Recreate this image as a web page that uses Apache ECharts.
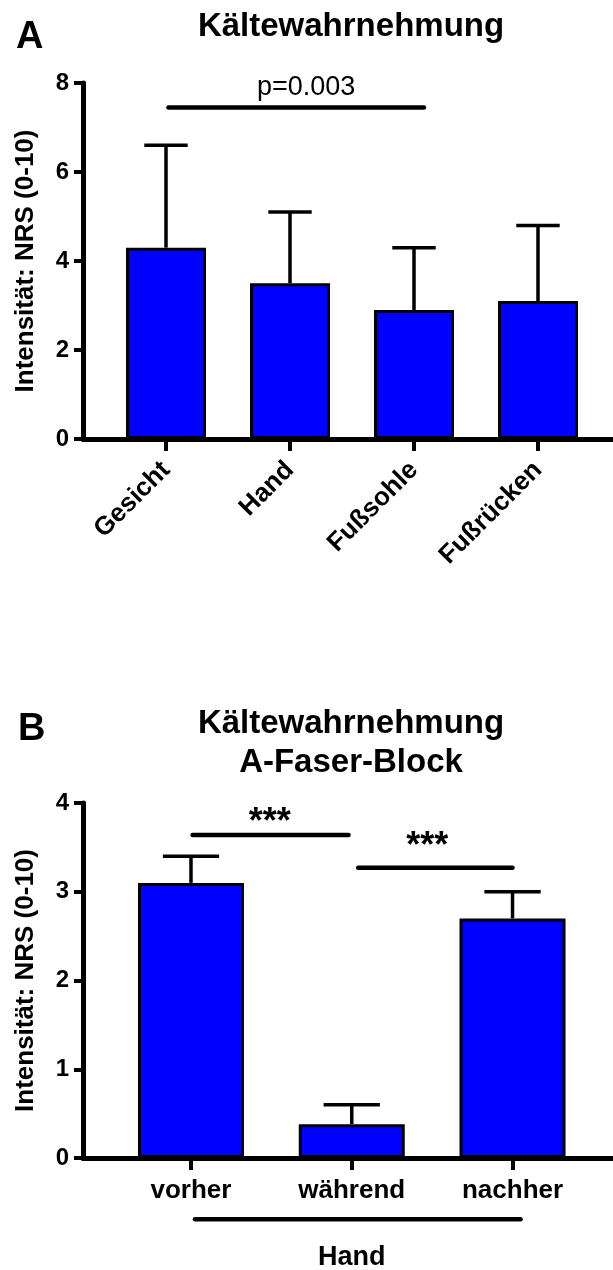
<!DOCTYPE html>
<html><head><meta charset="utf-8">
<script src="https://cdn.jsdelivr.net/npm/echarts@6/dist/echarts.min.js"></script>
<style>html,body{margin:0;padding:0;background:#fff}#c{width:613px;height:1270px}</style>
</head><body><div id="c"></div>
<script>
// ---- Panel A data ----
const aCategories = ['Gesicht', 'Hand', 'Fußsohle', 'Fußrücken'];
const aMeans = [4.3, 3.5, 2.9, 3.1];
const aSD = [2.3, 1.6, 1.4, 1.7];
const aYTicks = [0, 2, 4, 6, 8];
// significance: [fromPos, toPos, yLevel, labelPos, labelY]
const aSig = [[0.02, 2.08, 7.45, 1.13, 7.9]];
const aSigLabels = ['p=0.003'];

// ---- Panel B data ----
const bCategories = ['vorher', 'während', 'nachher'];
const bMeans = [3.1, 0.38, 2.7];
const bSD = [0.3, 0.22, 0.3];
const bYTicks = [0, 1, 2, 3, 4];
const bSig = [[0.01, 0.98, 3.64, 0.49, 3.85], [1.04, 2.0, 3.27, 1.47, 3.58]];
const bSigLabels = ['***', '***'];
const bGroup = [[0.025, 2.05, -0.69, 1.0, -1.12]];
const bGroupLabels = ['Hand'];

const FONT = '"Liberation Sans", Arial, Helvetica, sans-serif';
const txt = (size, weight) => ({ fontFamily: FONT, fontSize: size, fontWeight: weight, color: '#000' });

function errRender(params, api) {
  const i = api.value(0), m = api.value(1), sd = api.value(2);
  const p0 = api.coord([i, m]), p1 = api.coord([i, m + sd]);
  const half = api.size([1, 0])[0] * 0.175;
  return { type: 'group', children: [
    { type: 'line', shape: { x1: p0[0], y1: p0[1], x2: p1[0], y2: p1[1] }, style: { stroke: '#000', lineWidth: 3.5 } },
    { type: 'line', shape: { x1: p1[0] - half, y1: p1[1], x2: p1[0] + half, y2: p1[1] }, style: { stroke: '#000', lineWidth: 3.5 } }
  ]};
}
function makeSig(labels, fontSize, weight, dy) {
  return function (params, api) {
    const x0 = api.value(0), x1 = api.value(1), y = api.value(2), tx = api.value(3), ty = api.value(4);
    const band = api.size([1, 0])[0];
    const b = api.coord([0, y]);
    const t = api.coord([0, ty]);
    return { type: 'group', children: [
      { type: 'line', shape: { x1: b[0] + x0 * band, y1: b[1], x2: b[0] + x1 * band, y2: b[1] },
        style: { stroke: '#000', lineWidth: 4.5, lineCap: 'round' } },
      { type: 'text', style: { x: t[0] + tx * band, y: t[1] + dy, text: labels[params.dataIndex],
        fontFamily: FONT, fontSize: fontSize, fontWeight: weight, fill: '#000', align: 'center', verticalAlign: 'middle' } }
    ]};
  };
}

const barStyle = { color: '#0000ff', borderColor: '#000', borderWidth: 3 };
const yLine = (ticks, name) => ({
  type: 'value', min: ticks[0], max: ticks[ticks.length - 1], interval: ticks[1] - ticks[0],
  axisLine: { show: true, lineStyle: { color: '#000', width: 5 } },
  axisTick: { show: true, inside: false, length: 9, lineStyle: { color: '#000', width: 4 } },
  axisLabel: Object.assign({ margin: 14 }, txt(24, 'bold')),
  splitLine: { show: false },
  name: name, nameLocation: 'middle', nameGap: 44, nameTextStyle: txt(26, 'bold')
});
const xLine = (gi) => ({ type: 'value', gridIndex: gi, min: 0, max: 1,
  axisLine: { show: true, onZero: false, lineStyle: { color: '#000', width: 5 } },
  axisTick: { show: false }, axisLabel: { show: false }, splitLine: { show: false } });

const option = {
  animation: false,
  backgroundColor: '#fff',
  graphic: [
    { type: 'text', x: 351, y: 27, style: { text: 'Kältewahrnehmung', fontFamily: FONT, fontSize: 33, fontWeight: 'bold', fill: '#000', align: 'center', verticalAlign: 'middle' } },
    { type: 'text', x: 16, y: 38, style: { text: 'A', fontFamily: FONT, fontSize: 38, fontWeight: 'bold', fill: '#000', align: 'left', verticalAlign: 'middle' } },
    { type: 'text', x: 351, y: 724, style: { text: 'Kältewahrnehmung', fontFamily: FONT, fontSize: 33, fontWeight: 'bold', fill: '#000', align: 'center', verticalAlign: 'middle' } },
    { type: 'text', x: 351, y: 763, style: { text: 'A-Faser-Block', fontFamily: FONT, fontSize: 33, fontWeight: 'bold', fill: '#000', align: 'center', verticalAlign: 'middle' } },
    { type: 'text', x: 18, y: 730, style: { text: 'B', fontFamily: FONT, fontSize: 38, fontWeight: 'bold', fill: '#000', align: 'left', verticalAlign: 'middle' } }
  ],
  grid: [
    { left: 104, top: 83, width: 496, height: 356 },
    { left: 83, top: 83, width: 530, height: 356 },
    { left: 110.6, top: 803, width: 482.3, height: 355 },
    { left: 83, top: 803, width: 530, height: 355 }
  ],
  xAxis: [
    { type: 'category', gridIndex: 0, data: aCategories, axisLine: { show: false },
      axisTick: { show: true, alignWithLabel: true, length: 12, lineStyle: { color: '#000', width: 4 } },
      axisLabel: Object.assign({ rotate: 45, margin: 27, interval: 0 }, txt(26, 'bold')) },
    xLine(1),
    { type: 'category', gridIndex: 2, data: bCategories, axisLine: { show: false },
      axisTick: { show: true, alignWithLabel: true, length: 12, lineStyle: { color: '#000', width: 4 } },
      axisLabel: Object.assign({ margin: 20, interval: 0 }, txt(26, 'bold')) },
    xLine(3)
  ],
  yAxis: [
    { type: 'value', gridIndex: 0, min: aYTicks[0], max: aYTicks[aYTicks.length - 1], show: false },
    Object.assign({ gridIndex: 1 }, yLine(aYTicks, 'Intensität: NRS (0-10)')),
    { type: 'value', gridIndex: 2, min: bYTicks[0], max: bYTicks[bYTicks.length - 1], show: false },
    Object.assign({ gridIndex: 3 }, yLine(bYTicks, 'Intensität: NRS (0-10)'))
  ],
  series: [
    { type: 'bar', xAxisIndex: 0, yAxisIndex: 0, data: aMeans, barWidth: 80, itemStyle: barStyle, z: 3 },
    { type: 'custom', xAxisIndex: 0, yAxisIndex: 0, data: aMeans.map((m, i) => [i, m, aSD[i]]), renderItem: errRender, z: 2 },
    { type: 'custom', xAxisIndex: 0, yAxisIndex: 0, data: aSig, encode: { x: 0, y: 2 }, renderItem: makeSig(aSigLabels, 27, 'normal', 0), z: 4 },
    { type: 'bar', xAxisIndex: 2, yAxisIndex: 2, data: bMeans, barWidth: 106, itemStyle: barStyle, z: 3 },
    { type: 'custom', xAxisIndex: 2, yAxisIndex: 2, data: bMeans.map((m, i) => [i, m, bSD[i]]), renderItem: errRender, z: 2 },
    { type: 'custom', xAxisIndex: 2, yAxisIndex: 2, data: bSig, encode: { x: 0, y: 2 }, renderItem: makeSig(bSigLabels, 36, 'bold', 7), z: 4 },
    { type: 'custom', xAxisIndex: 2, yAxisIndex: 2, data: bGroup, encode: { x: 0, y: 2 }, renderItem: makeSig(bGroupLabels, 27, 'bold', 0), z: 4, clip: false }
  ]
};
const chart = echarts.init(document.getElementById('c'));
chart.setOption(option);
</script>
</body></html>
